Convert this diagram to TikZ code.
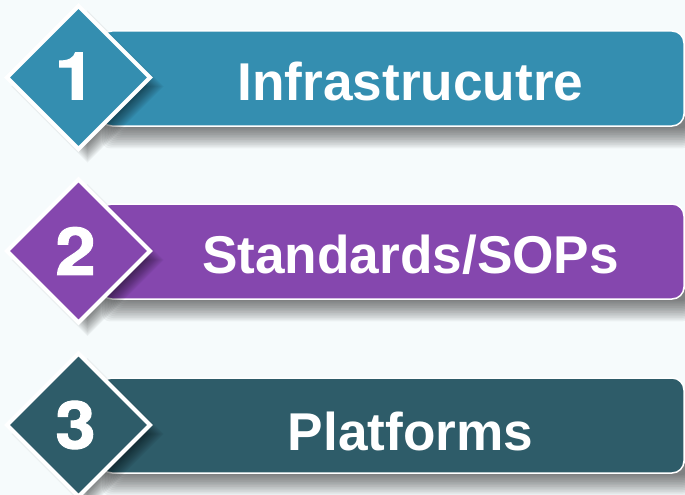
\documentclass[tikz,border=0pt]{standalone}
\usepackage{fontspec}
\setmainfont{Liberation Sans}
\newfontfamily\numfont[FakeBold=1.6,FakeStretch=1.1]{TeX Gyre Heros}[BoldFont={* Bold}]
\usetikzlibrary{shapes.geometric}
\definecolor{pageBg}{HTML}{F6FBFC}
\definecolor{tealA}{HTML}{348EB0}
\definecolor{purpleA}{HTML}{8547AE}
\definecolor{slateA}{HTML}{2E5C69}
\tikzset{
  barbox/.style={rectangle,rounded corners=12pt,draw=white,line width=1.5pt,minimum width=584pt,minimum height=95pt,inner sep=0pt,outer sep=0pt},
  diamondbox/.style={diamond,aspect=1,draw=white,line width=4.2pt,minimum width=143pt,minimum height=143pt,inner sep=0pt,outer sep=0pt},
  numlabel/.style={text=white,inner sep=0pt,font=\numfont\bfseries\fontsize{66pt}{66pt}\selectfont},
  barlabel/.style={text=white,inner sep=0pt,font=\bfseries\fontsize{53.2pt}{56pt}\selectfont}
}
\newcommand{\barshadow}[1]{%
  \foreach \i in {0,...,12}{
    \fill[black,opacity=0.048,rounded corners=8pt] (120-\i*1.5,#1-10) rectangle (690,#1+2+\i*1.7);
  }}
\newcommand{\diamondshadow}[2]{%
  \foreach \i in {0,...,13}{
    \fill[black,opacity=0.04] (#1+9,#2+9-58-\i*1.4) -- (#1+9+58+\i*1.4,#2+9) -- (#1+9,#2+9+58+\i*1.4) -- (#1+9-58-\i*1.4,#2+9) -- cycle;
  }}
\begin{document}
\begin{tikzpicture}[x=1pt,y=-1pt]
\useasboundingbox (0,0) rectangle (685,495);
\fill[pageBg] (0,0) rectangle (685,495);
% row 1
\barshadow{126}
\node[barbox,fill=tealA] (bar1) at (392,78.5) {};
\diamondshadow{78.5}{77.5}
\node[diamondbox,fill=tealA] (dia1) at (78.5,77.5) {};
\node[numlabel] (num1) at (75,76) {1};
\node[barlabel] (lab1) at (410.5,81) {Infrastrucutre};
% row 2
\barshadow{299}
\node[barbox,fill=purpleA] (bar2) at (392,251.5) {};
\diamondshadow{78.5}{251}
\node[diamondbox,fill=purpleA] (dia2) at (78.5,251) {};
\node[numlabel] (num2) at (75.5,251) {2};
\node[barlabel] (lab2) at (410.5,255) {Standards/SOPs};
% row 3
\barshadow{473}
\node[barbox,fill=slateA] (bar3) at (392,425.5) {};
\diamondshadow{78.5}{425}
\node[diamondbox,fill=slateA] (dia3) at (78.5,425) {};
\node[numlabel] (num3) at (75.5,425) {3};
\node[barlabel] (lab3) at (410.5,431) {Platforms};
\end{tikzpicture}
\end{document}
